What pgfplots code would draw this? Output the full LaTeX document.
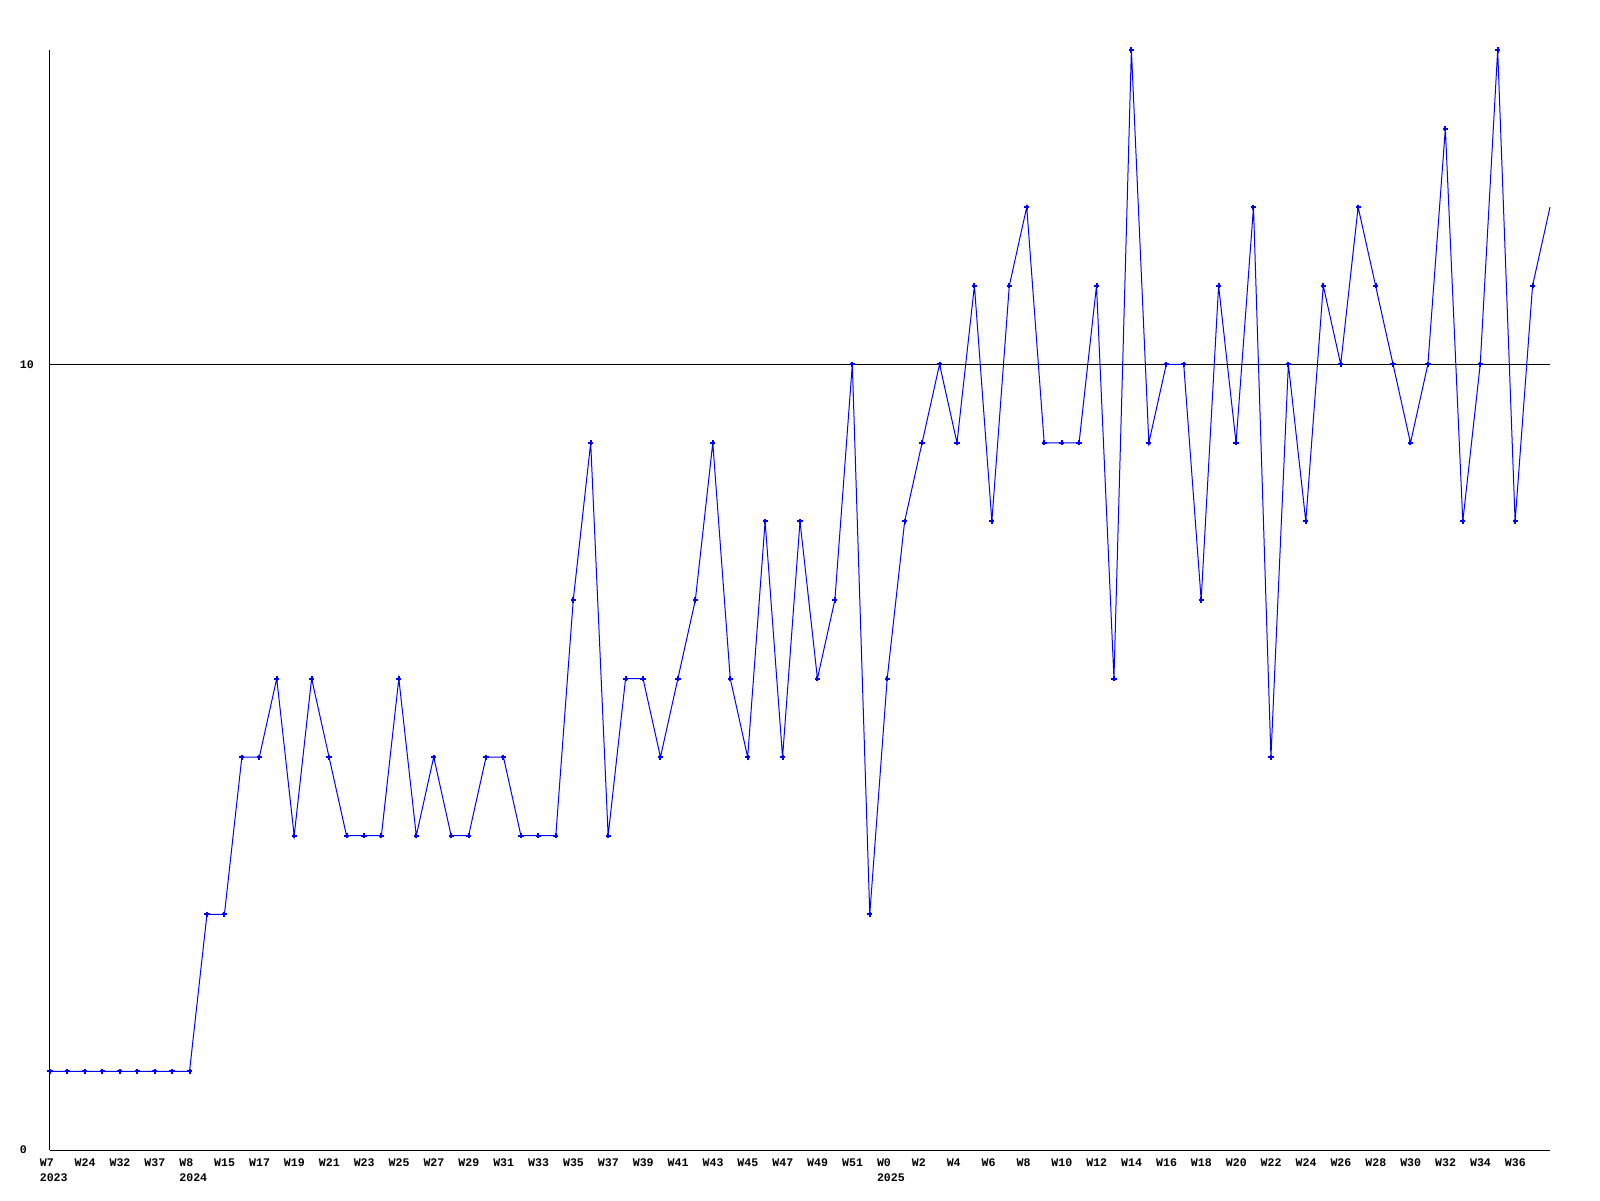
\documentclass[border=0pt]{standalone}
\usepackage{pgfplots}
\usepackage{pgfplotstable}
\pgfplotsset{compat=1.18}
\usepackage{fontspec}
\setmainfont{Liberation Mono}

\pgfplotstableread{
x y
0 1
1 1
2 1
3 1
4 1
5 1
6 1
7 1
8 1
9 3
10 3
11 5
12 5
13 6
14 4
15 6
16 5
17 4
18 4
19 4
20 6
21 4
22 5
23 4
24 4
25 5
26 5
27 4
28 4
29 4
30 7
31 9
32 4
33 6
34 6
35 5
36 6
37 7
38 9
39 6
40 5
41 8
42 5
43 8
44 6
45 7
46 10
47 3
48 6
49 8
50 9
51 10
52 9
53 11
54 8
55 11
56 12
57 9
58 9
59 9
60 11
61 6
62 14
63 9
64 10
65 10
66 7
67 11
68 9
69 12
70 5
71 10
72 8
73 11
74 10
75 12
76 11
77 10
78 9
79 10
80 13
81 8
82 10
83 14
84 8
85 11
86 12
}\weekly

\begin{document}
\begin{tikzpicture}
\useasboundingbox (-25pt,-25pt) rectangle (775pt,575pt);
\begin{axis}[
  scale only axis, width=750pt, height=550pt,
  xmin=0, xmax=86, ymin=0, ymax=14,
  axis x line=bottom, axis y line=left,
  axis line style={-, line width=0.5pt, black},
  clip=false,
  major tick length=0pt,
  xtick={0,2,...,84},
  xticklabels={{W7\\2023},W24,W32,W37,{W8\\2024},W15,W17,W19,W21,W23,W25,W27,W29,W31,W33,W35,W37,W39,W41,W43,W45,W47,W49,W51,{W0\\2025},W2,W4,W6,W8,W10,W12,W14,W16,W18,W20,W22,W24,W26,W28,W30,W32,W34,W36},
  ytick={0,10}, yticklabels={0,10},
  ymajorgrids, grid style={black, line width=0.5pt},
  every tick label/.append style={font=\fontsize{5.8}{7.5}\selectfont\bfseries, inner sep=0pt},
  x tick label style={anchor=north west, align=left, xshift=-5.3pt, yshift=-4pt},
  y tick label style={anchor=west, xshift=-15.3pt},
]
\addplot[blue, line width=0.5pt, no markers] table[x=x, y=y] {\weekly};
\addplot[blue, only marks, mark=+, mark size=1.3pt, mark options={line width=1pt},
  restrict x to domain=0:85] table[x=x, y=y] {\weekly};
\end{axis}
\end{tikzpicture}
\end{document}
